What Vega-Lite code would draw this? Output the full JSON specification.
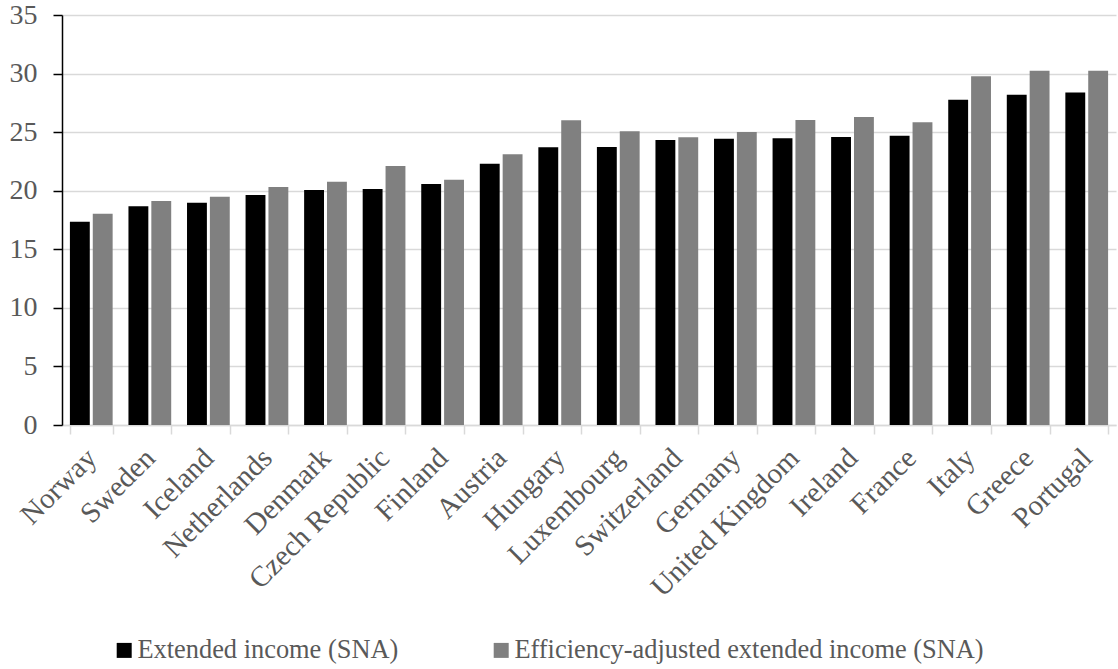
{
  "$schema": "https://vega.github.io/schema/vega-lite/v6.json",
  "width": 1054,
  "height": 410,
  "autosize": "none",
  "padding": {"left": 62, "top": 15, "right": 2, "bottom": 244},
  "background": "white",
  "config": {
    "view": {"stroke": null},
    "font": "Liberation Serif"
  },
  "data": {
    "values": [
      {"country": "Norway", "series": "Extended income (SNA)", "value": 17.36},
      {"country": "Norway", "series": "Efficiency-adjusted extended income (SNA)", "value": 18.04},
      {"country": "Sweden", "series": "Extended income (SNA)", "value": 18.67},
      {"country": "Sweden", "series": "Efficiency-adjusted extended income (SNA)", "value": 19.12},
      {"country": "Iceland", "series": "Extended income (SNA)", "value": 18.98},
      {"country": "Iceland", "series": "Efficiency-adjusted extended income (SNA)", "value": 19.49},
      {"country": "Netherlands", "series": "Extended income (SNA)", "value": 19.63},
      {"country": "Netherlands", "series": "Efficiency-adjusted extended income (SNA)", "value": 20.32},
      {"country": "Denmark", "series": "Extended income (SNA)", "value": 20.06},
      {"country": "Denmark", "series": "Efficiency-adjusted extended income (SNA)", "value": 20.77},
      {"country": "Czech Republic", "series": "Extended income (SNA)", "value": 20.15},
      {"country": "Czech Republic", "series": "Efficiency-adjusted extended income (SNA)", "value": 22.11},
      {"country": "Finland", "series": "Extended income (SNA)", "value": 20.57},
      {"country": "Finland", "series": "Efficiency-adjusted extended income (SNA)", "value": 20.94},
      {"country": "Austria", "series": "Extended income (SNA)", "value": 22.31},
      {"country": "Austria", "series": "Efficiency-adjusted extended income (SNA)", "value": 23.11},
      {"country": "Hungary", "series": "Extended income (SNA)", "value": 23.7},
      {"country": "Hungary", "series": "Efficiency-adjusted extended income (SNA)", "value": 26.01},
      {"country": "Luxembourg", "series": "Extended income (SNA)", "value": 23.73},
      {"country": "Luxembourg", "series": "Efficiency-adjusted extended income (SNA)", "value": 25.07},
      {"country": "Switzerland", "series": "Extended income (SNA)", "value": 24.33},
      {"country": "Switzerland", "series": "Efficiency-adjusted extended income (SNA)", "value": 24.56},
      {"country": "Germany", "series": "Extended income (SNA)", "value": 24.44},
      {"country": "Germany", "series": "Efficiency-adjusted extended income (SNA)", "value": 25.01},
      {"country": "United Kingdom", "series": "Extended income (SNA)", "value": 24.47},
      {"country": "United Kingdom", "series": "Efficiency-adjusted extended income (SNA)", "value": 26.04},
      {"country": "Ireland", "series": "Extended income (SNA)", "value": 24.59},
      {"country": "Ireland", "series": "Efficiency-adjusted extended income (SNA)", "value": 26.29},
      {"country": "France", "series": "Extended income (SNA)", "value": 24.7},
      {"country": "France", "series": "Efficiency-adjusted extended income (SNA)", "value": 25.84},
      {"country": "Italy", "series": "Extended income (SNA)", "value": 27.77},
      {"country": "Italy", "series": "Efficiency-adjusted extended income (SNA)", "value": 29.77},
      {"country": "Greece", "series": "Extended income (SNA)", "value": 28.2},
      {"country": "Greece", "series": "Efficiency-adjusted extended income (SNA)", "value": 30.25},
      {"country": "Portugal", "series": "Extended income (SNA)", "value": 28.39},
      {"country": "Portugal", "series": "Efficiency-adjusted extended income (SNA)", "value": 30.25}
    ]
  },
  "mark": {"type": "bar"},
  "encoding": {
    "x": {
      "field": "country",
      "type": "nominal",
      "sort": null,
      "scale": {"paddingInner": 0.27, "paddingOuter": 0.135},
      "axis": {
        "title": null,
        "labelAngle": -45,
        "labelAlign": "right",
        "labelBaseline": "middle",
        "labelFont": "Liberation Serif",
        "labelFontSize": 29,
        "labelColor": "#595959",
        "labelPadding": 19,
        "labelOffset": 0,
        "labelLimit": 500,
        "labelOverlap": false,
        "tickBand": "extent",
        "tickColor": "#d9d9d9",
        "tickWidth": 1.5,
        "tickSize": 9,
        "domainColor": "#d9d9d9",
        "domainWidth": 1.5,
        "grid": false
      }
    },
    "xOffset": {
      "field": "series",
      "type": "nominal",
      "sort": ["Extended income (SNA)", "Efficiency-adjusted extended income (SNA)"],
      "scale": {"paddingInner": 0.131, "paddingOuter": 0}
    },
    "y": {
      "field": "value",
      "type": "quantitative",
      "scale": {"domain": [0, 35], "nice": false},
      "axis": {
        "title": null,
        "values": [0, 5, 10, 15, 20, 25, 30, 35],
        "labelFont": "Liberation Serif",
        "labelFontSize": 28,
        "labelColor": "#595959",
        "labelPadding": 16,
        "tickColor": "#000000",
        "tickWidth": 1.5,
        "tickSize": 9,
        "domainColor": "#000000",
        "domainWidth": 1.5,
        "gridColor": "#d9d9d9",
        "gridWidth": 1.5
      }
    },
    "color": {
      "field": "series",
      "type": "nominal",
      "sort": ["Extended income (SNA)", "Efficiency-adjusted extended income (SNA)"],
      "scale": {"range": ["#000000", "#808080"]},
      "legend": {
        "title": null,
        "orient": "none",
        "direction": "horizontal",
        "legendX": 49,
        "legendY": 622,
        "symbolType": "square",
        "symbolSize": 225,
        "symbolStrokeWidth": 0,
        "labelFont": "Liberation Serif",
        "labelFontSize": 26.4,
        "labelColor": "#595959",
        "labelOffset": 0,
        "columnPadding": 89,
        "labelLimit": 600
      }
    }
  }
}
